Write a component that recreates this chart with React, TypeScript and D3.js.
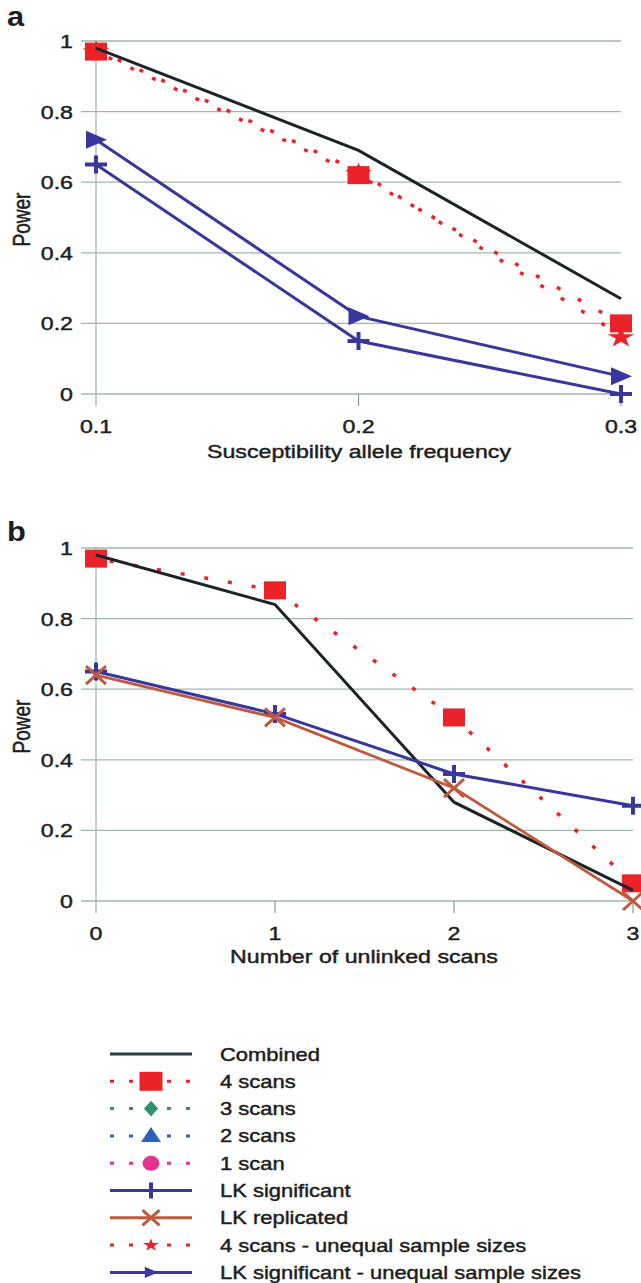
import React from "react";
import * as d3 from "d3";

// ---------- data ----------
const freqA = [0.1, 0.2, 0.3];
const combinedA = [0.98, 0.69, 0.27];
const scans4A = [0.97, 0.62, 0.2];
const scans4UnequalA = [0.97, 0.625, 0.16];
const lkSigA = [0.65, 0.15, 0.0];
const lkSigUnequalA = [0.72, 0.22, 0.05];

const scansB = [0, 1, 2, 3];
const combinedB = [0.98, 0.84, 0.28, 0.03];
const scans4B = [0.97, 0.88, 0.52, 0.05];
const lkSigB = [0.65, 0.53, 0.36, 0.27];
const lkRepB = [0.64, 0.52, 0.32, 0.0];

const yTicks = [0, 0.2, 0.4, 0.6, 0.8, 1];
const yTickLabels = ["0", "0.2", "0.4", "0.6", "0.8", "1"];
const xTicksA = [0.1, 0.2, 0.3];
const xTickLabelsA = ["0.1", "0.2", "0.3"];
const xTicksB = [0, 1, 2, 3];
const xTickLabelsB = ["0", "1", "2", "3"];

const legendLabels = [
  "Combined",
  "4 scans",
  "3 scans",
  "2 scans",
  "1 scan",
  "LK significant",
  "LK replicated",
  "4 scans - unequal sample sizes",
  "LK significant - unequal sample sizes",
];

// ---------- style ----------
const FONT = "'Liberation Sans', Arial, Helvetica, sans-serif";
const SX = 1.22;
const C_BLACK = "#1c2427";
const C_RED = "#ec2229";
const C_BLUE = "#39369c";
const C_BROWN = "#c15a3d";
const C_GRID = "#9fb8ad";
const C_GREEN = "#2f8f6e";
const C_BLUE2 = "#2a62b8";
const C_PINK = "#e5338e";
const C_TEXT = "#1e1e1e";

type Pt = [number, number];

const Square = ({ x, y, w = 22, h = 18 }: { x: number; y: number; w?: number; h?: number }) => (
  <rect x={x - w / 2} y={y - h / 2} width={w} height={h} fill={C_RED} />
);
const Plus = ({ x, y, color = C_BLUE }: { x: number; y: number; color?: string }) => (
  <path d={`M${x - 11},${y}H${x + 11}M${x},${y - 9}V${y + 9}`} stroke={color} strokeWidth={4} fill="none" />
);
const Cross = ({ x, y, s = 1 }: { x: number; y: number; s?: number }) => (
  <path
    d={`M${x - 10 * s},${y - 9 * s}L${x + 10 * s},${y + 9 * s}M${x - 10 * s},${y + 9 * s}L${x + 10 * s},${y - 9 * s}`}
    stroke={C_BROWN}
    strokeWidth={3}
    fill="none"
  />
);
const TriRight = ({ x, y, s = 1 }: { x: number; y: number; s?: number }) => (
  <path d={`M${x - 10 * s},${y - 9 * s}L${x + 11 * s},${y}L${x - 10 * s},${y + 9 * s}Z`} fill={C_BLUE} />
);
const starPath = d3.symbol().type(d3.symbolStar).size(150)() as string;
const starSmall = d3.symbol().type(d3.symbolStar).size(55)() as string;
const diamondPath = d3.symbol().type(d3.symbolDiamond).size(110)() as string;
const trianglePath = d3.symbol().type(d3.symbolTriangle).size(130)() as string;
const Star = ({ x, y, small = false }: { x: number; y: number; small?: boolean }) => (
  <path d={small ? starSmall : starPath} transform={`translate(${x},${y}) scale(${SX},0.95)`} fill={C_RED} />
);

const STxt = ({
  x,
  y,
  children,
  anchor = "start",
  size = 19,
  weight = "normal",
  rotate = 0,
  sx = SX,
}: any) => (
  <text
    transform={`translate(${x},${y}) scale(${sx},1)${rotate ? ` rotate(${rotate})` : ""}`}
    textAnchor={anchor}
    fontSize={size}
    fontWeight={weight}
    fontFamily={FONT}
    fill={C_TEXT}
    stroke={C_TEXT}
    strokeWidth={weight === "bold" ? 0 : 0.45}
  >
    {children}
  </text>
);

function Grid({ x, y, xTicks, xLabels, x0, x1 }: any) {
  const [yb, yt] = y.range();
  return (
    <g>
      {yTicks.map((t: number) => (
        <line key={"g" + t} x1={81} x2={x1} y1={y(t)} y2={y(t)} stroke={C_GRID} strokeWidth={1.3} />
      ))}
      <line x1={x(x0)} x2={x(x0)} y1={yt} y2={yb + 12} stroke={C_GRID} strokeWidth={1.3} />
      {xTicks.slice(1).map((t: number) => (
        <line key={"t" + t} x1={x(t)} x2={x(t)} y1={yb} y2={yb + 12} stroke={"#8a9a94"} strokeWidth={1.2} />
      ))}
      {yTicks.map((t: number, i: number) => (
        <STxt key={"yl" + t} x={73} y={y(t) + 7} anchor="end">
          {yTickLabels[i]}
        </STxt>
      ))}
      {xTicks.map((t: number, i: number) => (
        <STxt key={"xl" + t} x={x(t)} y={yb + 39} anchor="middle">
          {xLabels[i]}
        </STxt>
      ))}
    </g>
  );
}

export default function App() {
  const xA = d3.scaleLinear().domain([0.1, 0.3]).range([96, 621]);
  const yA = d3.scaleLinear().domain([0, 1]).range([394, 41]);
  const xB = d3.scaleLinear().domain([0, 3]).range([96, 633]);
  const yB = d3.scaleLinear().domain([0, 1]).range([901, 548]);

  const line = d3.line<Pt>();
  const ptsA = (vals: number[]): Pt[] => vals.map((v, i) => [xA(freqA[i]), yA(v)]);
  const ptsB = (vals: number[]): Pt[] => vals.map((v, i) => [xB(scansB[i]), yB(v)]);

  const dotted = { stroke: C_RED, strokeWidth: 3.5, strokeDasharray: "4 20", fill: "none" };

  const legendY = (i: number) => 1054 + i * 27.3;
  const LX0 = 110;
  const LX1 = 192;
  const LM = 151;

  const legendMarker = (i: number, cy: number) => {
    switch (i) {
      case 0:
        return <line x1={LX0} x2={LX1} y1={cy} y2={cy} stroke="#2a3c44" strokeWidth={3} />;
      case 1:
        return (
          <g>
            <line x1={LX0} x2={LX1} y1={cy} y2={cy} stroke={C_RED} strokeWidth={3} strokeDasharray="4 15" />
            <Square x={LM} y={cy} w={23} h={19} />
          </g>
        );
      case 2:
        return (
          <g>
            <line x1={LX0} x2={LX1} y1={cy} y2={cy} stroke={C_GREEN} strokeWidth={3} strokeDasharray="4 15" />
            <path d={diamondPath} transform={`translate(${LM},${cy}) scale(1.25,0.8)`} fill={C_GREEN} />
          </g>
        );
      case 3:
        return (
          <g>
            <line x1={LX0} x2={LX1} y1={cy} y2={cy} stroke={C_BLUE2} strokeWidth={3} strokeDasharray="4 15" />
            <path d={trianglePath} transform={`translate(${LM},${cy + 1}) scale(1.15,1)`} fill={C_BLUE2} />
          </g>
        );
      case 4:
        return (
          <g>
            <line x1={LX0} x2={LX1} y1={cy} y2={cy} stroke={C_PINK} strokeWidth={3} strokeDasharray="4 15" />
            <ellipse cx={LM} cy={cy} rx={8.5} ry={7.5} fill={C_PINK} />
          </g>
        );
      case 5:
        return (
          <g>
            <line x1={LX0} x2={LX1} y1={cy} y2={cy} stroke={C_BLUE} strokeWidth={3} />
            <line x1={LM} x2={LM} y1={cy - 8} y2={cy + 8} stroke={C_BLUE} strokeWidth={4} />
          </g>
        );
      case 6:
        return (
          <g>
            <line x1={LX0} x2={LX1} y1={cy} y2={cy} stroke={C_BROWN} strokeWidth={3} />
            <Cross x={LM} y={cy} s={0.85} />
          </g>
        );
      case 7:
        return (
          <g>
            <line x1={LX0} x2={LX1} y1={cy} y2={cy} stroke={C_RED} strokeWidth={3} strokeDasharray="4 15" />
            <Star x={LM} y={cy} small />
          </g>
        );
      default:
        return (
          <g>
            <line x1={LX0} x2={LX1} y1={cy} y2={cy} stroke={C_BLUE} strokeWidth={3} />
            <TriRight x={LM} y={cy} s={0.62} />
          </g>
        );
    }
  };

  return (
    <svg
      width={641}
      height={1283}
      style={{ position: "absolute", left: 0, top: 0, background: "#fff" }}
      fontFamily={FONT}
    >
      <rect width={641} height={1283} fill="#fff" />

      {/* ---------- panel a ---------- */}
      <STxt x={7} y={26} size={28} weight="bold" sx={1.1}>
        a
      </STxt>
      <Grid x={xA} y={yA} xTicks={xTicksA} xLabels={xTickLabelsA} x0={0.1} x1={621} />
      <STxt x={30} y={(41 + 394) / 2 + 2} anchor="middle" size={19} rotate={-90}>
        Power
      </STxt>
      <STxt x={359} y={458} anchor="middle" size={19}>
        Susceptibility allele frequency
      </STxt>

      <path d={line(ptsA(scans4UnequalA)) as string} {...dotted} transform="translate(0,-2)" />
      <path d={line(ptsA(scans4A)) as string} {...dotted} strokeDashoffset={10} />
      {ptsA(scans4UnequalA).map(([x, y], i) => (
        <Star key={"sa" + i} x={x} y={y} />
      ))}
      {ptsA(scans4A).map(([x, y], i) => (
        <Square key={"qa" + i} x={x} y={y} />
      ))}
      <path d={line(ptsA(combinedA)) as string} stroke={C_BLACK} strokeWidth={3} fill="none" />
      <path d={line(ptsA(lkSigUnequalA)) as string} stroke={C_BLUE} strokeWidth={3} fill="none" />
      {ptsA(lkSigUnequalA).map(([x, y], i) => (
        <TriRight key={"ta" + i} x={x} y={y} />
      ))}
      <path d={line(ptsA(lkSigA)) as string} stroke={C_BLUE} strokeWidth={3} fill="none" />
      {ptsA(lkSigA).map(([x, y], i) => (
        <Plus key={"pa" + i} x={x} y={y} />
      ))}

      {/* ---------- panel b ---------- */}
      <STxt x={7} y={541} size={28} weight="bold" sx={1.1}>
        b
      </STxt>
      <Grid x={xB} y={yB} xTicks={xTicksB} xLabels={xTickLabelsB} x0={0} x1={633} />
      <STxt x={30} y={(548 + 901) / 2 + 2} anchor="middle" size={19} rotate={-90}>
        Power
      </STxt>
      <STxt x={364} y={963} anchor="middle" size={19}>
        Number of unlinked scans
      </STxt>

      <path d={line(ptsB(scans4B)) as string} {...dotted} strokeDashoffset={10} />
      {ptsB(scans4B).map(([x, y], i) => (
        <Square key={"qb" + i} x={x} y={y} />
      ))}
      <path d={line(ptsB(combinedB)) as string} stroke={C_BLACK} strokeWidth={3} fill="none" />
      <path d={line(ptsB(lkSigB)) as string} stroke={C_BLUE} strokeWidth={3} fill="none" />
      {ptsB(lkSigB).map(([x, y], i) => (
        <Plus key={"pb" + i} x={x} y={y} />
      ))}
      <path d={line(ptsB(lkRepB)) as string} stroke={C_BROWN} strokeWidth={2.8} fill="none" />
      {ptsB(lkRepB).map(([x, y], i) => (
        <Cross key={"xb" + i} x={x} y={y} />
      ))}

      {/* ---------- legend ---------- */}
      {legendLabels.map((lab, i) => {
        const cy = legendY(i);
        return (
          <g key={"lg" + i}>
            {legendMarker(i, cy)}
            <STxt x={220} y={cy + 6.5} size={18}>
              {lab}
            </STxt>
          </g>
        );
      })}
    </svg>
  );
}
